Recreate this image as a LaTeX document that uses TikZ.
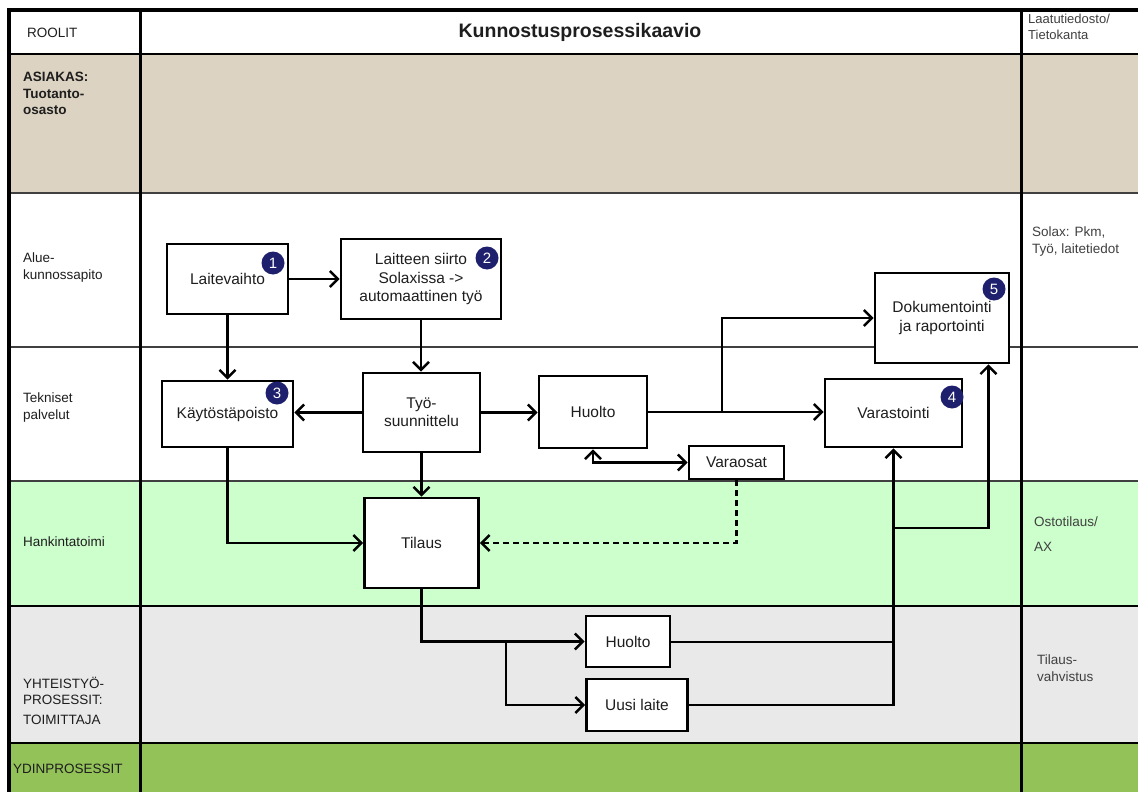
\documentclass[tikz,border=0pt]{standalone}
\usepackage{fontspec}
\setmainfont{Liberation Sans}
\usetikzlibrary{arrows.meta}

\definecolor{custtan}{RGB}{221,211,194}
\definecolor{buygreen}{RGB}{204,255,204}
\definecolor{partgray}{RGB}{233,233,233}
\definecolor{coregreen}{RGB}{146,194,88}
\definecolor{badge}{RGB}{30,32,110}
\definecolor{ink}{RGB}{30,30,30}

\begin{document}
\begin{tikzpicture}[x=1pt,y=-1pt,
  box/.style={draw=black, line width=2.8pt, fill=white, inner sep=0pt,
    align=center, text=ink, font=\fontsize{15.5}{18.3}\selectfont},
  num/.style={circle, fill=badge, inner sep=0pt, minimum size=23pt,
    text=white, font=\fontsize{15}{15}\selectfont},
  flow/.style={line width=2.4pt,
    -{Straight Barb[length=8pt,width=16pt,line width=2.4pt]}},
  bothflow/.style={line width=2.4pt,
    {Straight Barb[length=8pt,width=16pt,line width=2.4pt]}-{Straight Barb[length=8pt,width=16pt,line width=2.4pt]}},
  feed/.style={line width=2pt},
  role/.style={inner sep=0pt, align=left, text=ink,
    font=\fontsize{13.5}{16.3}\selectfont},
  side/.style={inner sep=0pt, align=left, text=ink!85,
    font=\fontsize{13.5}{16.3}\selectfont},
]
\useasboundingbox (0,0) rectangle (1138,792);

% lane backgrounds
\fill[white] (0,0) rectangle (1138,792);
\fill[custtan]   (9,54)  rectangle (1138,193);
\fill[buygreen]  (9,481) rectangle (1138,606);
\fill[partgray]  (9,606) rectangle (1138,743);
\fill[coregreen] (9,743) rectangle (1138,792);

% table rules
\draw[line width=2pt] (9,54) -- (1138,54);
\draw[line width=1.4pt, black!75] (9,193) -- (1138,193);
\draw[line width=1.4pt, black!75] (9,347) -- (1138,347);
\draw[line width=1.4pt, black!75] (9,481) -- (1138,481);
\draw[line width=2.2pt] (9,606) -- (1138,606);
\draw[line width=2.2pt] (9,743) -- (1138,743);
\draw[line width=3pt] (140,10) -- (140,792);
\draw[line width=3pt] (1021,10) -- (1021,792);
\draw[line width=3.4pt] (9,792) -- (9,10) -- (1138,10);

% header
\node[role, anchor=west] (hroles) at (27,33) {ROOLIT};
\node[font=\bfseries\fontsize{19.5}{22}\selectfont, text=ink, inner sep=0pt]
  (htitle) at (580,32) {Kunnostusprosessikaavio};
\node[side, anchor=north west, font=\fontsize{13}{15.5}\selectfont]
  (hdata) at (1028,14) {Laatutiedosto/\\Tietokanta};

% role labels
\node[role, anchor=north west, font=\bfseries\fontsize{13.5}{16.5}\selectfont]
  (rcust) at (23,72) {ASIAKAS:\\Tuotanto-\\osasto};
\node[role, anchor=north west] (rarea) at (23,253) {Alue-\\kunnossapito};
\node[role, anchor=north west] (rtech) at (23,393) {Tekniset\\palvelut};
\node[role, anchor=west] (rbuy) at (23,542) {Hankintatoimi};
\node[role, anchor=north west] (rpart) at (23,677) {YHTEISTYÖ-\\PROSESSIT:\\[3pt]TOIMITTAJA};
\node[role, anchor=west] (rcore) at (13,769) {YDINPROSESSIT};

% data column
\node[side, anchor=north west] (dsolax) at (1032,227) {Solax: Pkm,\\Työ, laitetiedot};
\node[side, anchor=north west] (dpo) at (1034,517) {Ostotilaus/\\[8pt]AX};
\node[side, anchor=north west] (dconf) at (1037,655) {Tilaus-\\vahvistus};

% process boxes
\node[box, minimum width=121pt, minimum height=70pt] (lv) at (227.5,279) {Laitevaihto};
\node[box, minimum width=160pt, minimum height=80pt] (ls) at (421,279)
  {Laitteen siirto\\Solaxissa ->\\automaattinen työ};
\node[box, minimum width=134pt, minimum height=90pt] (dok) at (942,318)
  {Dokumentointi\\ja raportointi};
\node[box, minimum width=131pt, minimum height=66pt] (kp) at (227.5,414) {Käytöstäpoisto};
\node[box, minimum width=117pt, minimum height=79pt] (ts) at (421.5,412.5) {Työ-\\suunnittelu};
\node[box, minimum width=108pt, minimum height=72pt] (hu) at (593,412) {Huolto};
\node[box, minimum width=95pt, minimum height=33pt] (vo) at (736.5,462.5) {Varaosat};
\node[box, minimum width=137pt, minimum height=68pt] (va) at (893.5,413) {Varastointi};
\node[box, minimum width=114pt, minimum height=90pt] (ti) at (421.5,543) {Tilaus};
\node[box, minimum width=84pt, minimum height=51pt] (hl) at (628,641.5) {Huolto};
\node[box, minimum width=101pt, minimum height=52pt] (ul) at (637,705) {Uusi laite};

% step numbers
\node[num] (n1) at (273,263) {1};
\node[num] (n2) at (487,258) {2};
\node[num] (n3) at (277,393) {3};
\node[num] (n4) at (952,397) {4};
\node[num] (n5) at (994,289) {5};

% junction helpers
\coordinate (jx) at (722,0);
\coordinate (jb) at (506,0);
\coordinate (jy) at (0,528);

% connectors
\draw[flow] (lv) -- (ls);
\draw[flow] (lv) -- (kp);
\draw[flow] (ls.south) -- (ls.south |- ts.north);
\draw[flow] (ts.west) -- (ts.west -| kp.east);
\draw[flow] (ts.east) -- (ts.east -| hu.west);
\draw[flow] (hu.east) -- (hu.east -| va.west);
\draw[flow] (hu.east -| jx) |- (dok.west);
\draw[bothflow] (hu.south) |- (vo.west);
\draw[flow, dash pattern=on 6pt off 4pt] (vo.south) |- (ti.east);
\draw[flow] (kp.south) |- (ti.west);
\draw[flow] (ts.south) -- (ts.south |- ti.north);
\draw[flow] (ti.south) |- (hl.west);
\draw[flow] (hl.west -| jb) |- (ul.west);
\draw[feed] (hl.east) -- (hl.east -| va.south);
\draw[flow] (ul.east) -| (va.south);
\draw[flow] (va.south |- jy) -| ([xshift=-22pt]dok.south east);
\end{tikzpicture}
\end{document}
